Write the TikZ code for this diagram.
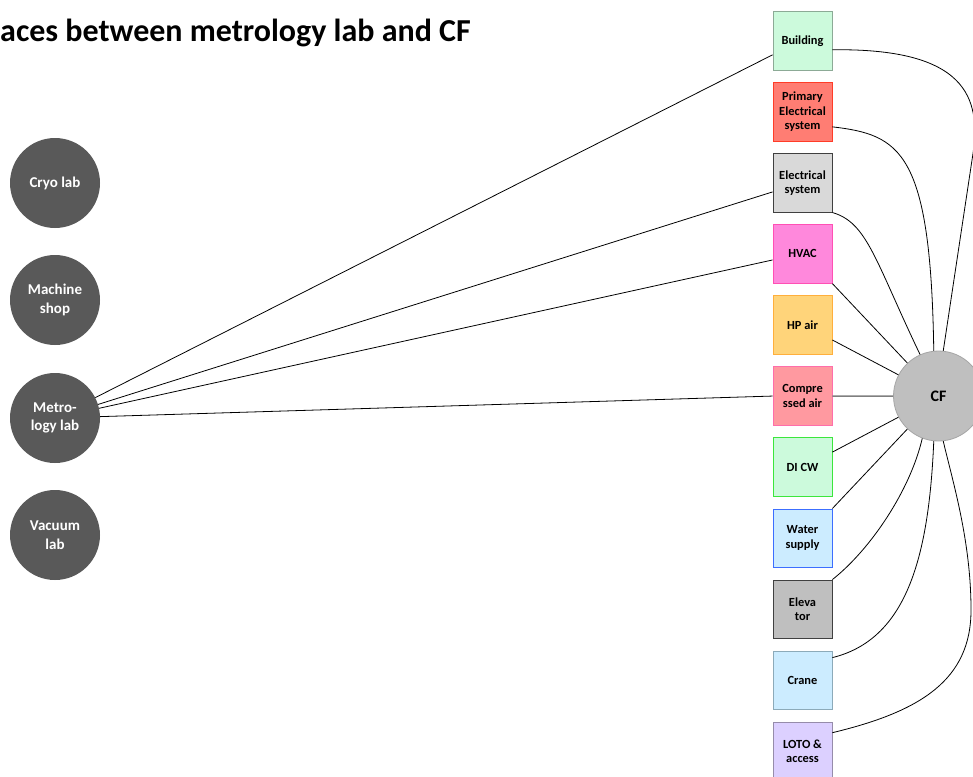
\documentclass[tikz,border=0pt]{standalone}
\usepackage{fontspec}
\setmainfont{Carlito}

% palette
\definecolor{labgray}{RGB}{89,89,89}
\definecolor{cffill}{RGB}{191,191,191}
\definecolor{cfline}{RGB}{166,166,166}
\definecolor{bldfill}{RGB}{204,250,220}
\definecolor{bldline}{RGB}{140,170,150}
\definecolor{prifill}{RGB}{255,125,115}
\definecolor{priline}{RGB}{255,60,40}
\definecolor{elfill}{RGB}{217,217,217}
\definecolor{darkline}{RGB}{64,64,64}
\definecolor{hvacfill}{RGB}{255,136,220}
\definecolor{hvacline}{RGB}{255,80,180}
\definecolor{hpfill}{RGB}{255,212,122}
\definecolor{hpline}{RGB}{255,175,60}
\definecolor{cafill}{RGB}{255,153,160}
\definecolor{caline}{RGB}{255,110,170}
\definecolor{diline}{RGB}{60,230,60}
\definecolor{wsfill}{RGB}{204,236,255}
\definecolor{wsline}{RGB}{60,110,255}
\definecolor{elevfill}{RGB}{191,191,191}
\definecolor{crline}{RGB}{140,170,185}
\definecolor{lotofill}{RGB}{220,208,255}
\definecolor{lotoline}{RGB}{150,140,170}
\definecolor{pipegray}{RGB}{127,127,127}

\begin{document}
\begin{tikzpicture}[x=1pt,y=-1pt,
  lab/.style={circle, fill=labgray, draw=none, minimum size=90pt, inner sep=0pt,
    align=center, text=white, font=\fontsize{15}{18.5}\selectfont\bfseries},
  sysbox/.style={rectangle, minimum width=59pt, minimum height=58.5pt, inner sep=0pt,
    align=center, line width=0.8pt, font=\fontsize{12.4}{14.5}\selectfont\bfseries},
  hub/.style={circle, fill=cffill, draw=cfline, line width=0.8pt, minimum size=90pt,
    inner sep=0pt, font=\fontsize{16}{19}\selectfont\bfseries},
  link/.style={draw=black, line width=0.8pt},
  mainpipe/.style={draw=pipegray, line width=1.5pt},
]
\useasboundingbox (0,0) rectangle (973,776);

% title
\node[anchor=base west, inner sep=0pt, font=\fontsize{32}{38}\selectfont\bfseries]
  (title) at (0,41.5) {aces between metrology lab and CF};

% laboratories
\node[lab] (cryo) at (55,183) {Cryo lab};
\node[lab] (mach) at (55,300) {Machine\\shop};
\node[lab] (met)  at (55,418) {Metro-\\logy lab};
\node[lab] (vac)  at (55,535) {Vacuum\\lab};

% building systems
\node[sysbox, fill=bldfill,  draw=bldline]   (bld)  at (802.5,40.8)   {Building};
\node[sysbox, fill=prifill,  draw=priline]   (pri)  at (802.5,111.85) {Primary\\Electrical\\system};
\node[sysbox, fill=elfill,   draw=darkline]  (el)   at (802.5,182.9)  {Electrical\\system};
\node[sysbox, fill=hvacfill, draw=hvacline]  (hvac) at (802.5,253.95) {HVAC};
\node[sysbox, fill=hpfill,   draw=hpline]    (hp)   at (802.5,325)    {HP air};
\node[sysbox, fill=cafill,   draw=caline]    (ca)   at (802.5,396.05) {Compre\\ssed air};
\node[sysbox, fill=bldfill,  draw=diline]    (dicw) at (802.5,467.1)  {DI CW};
\node[sysbox, fill=wsfill,   draw=wsline]    (ws)   at (802.5,538.15) {Water\\supply};
\node[sysbox, fill=elevfill, draw=darkline]  (elev) at (802.5,609.2)  {Eleva\\tor};
\node[sysbox, fill=wsfill,   draw=crline]    (cr)   at (802.5,680.25) {Crane};
\node[sysbox, fill=lotofill, draw=lotoline]  (loto) at (802.5,751.3)  {LOTO \&\\access};

% central facility
\node[hub] (cf) at (938.5,396) {CF};

% bends of the two outer cables
\coordinate (bldbend)  at (972,160);
\coordinate (lotobend) at (971,610);

% metrology lab to systems
\draw[link] (met) -- ([yshift=-14pt]bld.west);
\draw[link] (met) -- ([yshift=-9pt]el.west);
\draw[link] (met) -- ([yshift=-6pt]hvac.west);
\draw[link] (met) -- (ca.west);

% systems to CF
\draw[link] ([yshift=-9pt]bld.east) .. controls +(143,-2) and +(9,-55) .. (bldbend) -- (cf.84);
\draw[link] ([yshift=-15pt]pri.east) .. controls +(68,8) and +(-3,-200) .. (cf.96);
\draw[link] (el.south east) .. controls +(35,10) and +(-45,-94) .. (cf.114);
\draw[link] (hvac.south east) -- (cf);
\draw[link] ([yshift=-15pt]hp.east) -- (cf);
\draw[mainpipe] (ca.east) -- (cf);
\draw[link] ([yshift=15pt]dicw.east) -- (cf);
\draw[link] (ws.north east) -- (cf);
\draw[link] (elev.north east) .. controls +(38,-30) and +(-12,52) .. (cf.249);
\draw[link] ([yshift=-7pt]cr.north east) .. controls +(73,-18) and +(-5,119) .. (cf.264);
\draw[link] ([yshift=-11pt]loto.north east) .. controls +(88,-21) and +(0,70) .. (lotobend)
  .. controls +(0,-70) and +(9,39) .. (cf.276);
\end{tikzpicture}
\end{document}
